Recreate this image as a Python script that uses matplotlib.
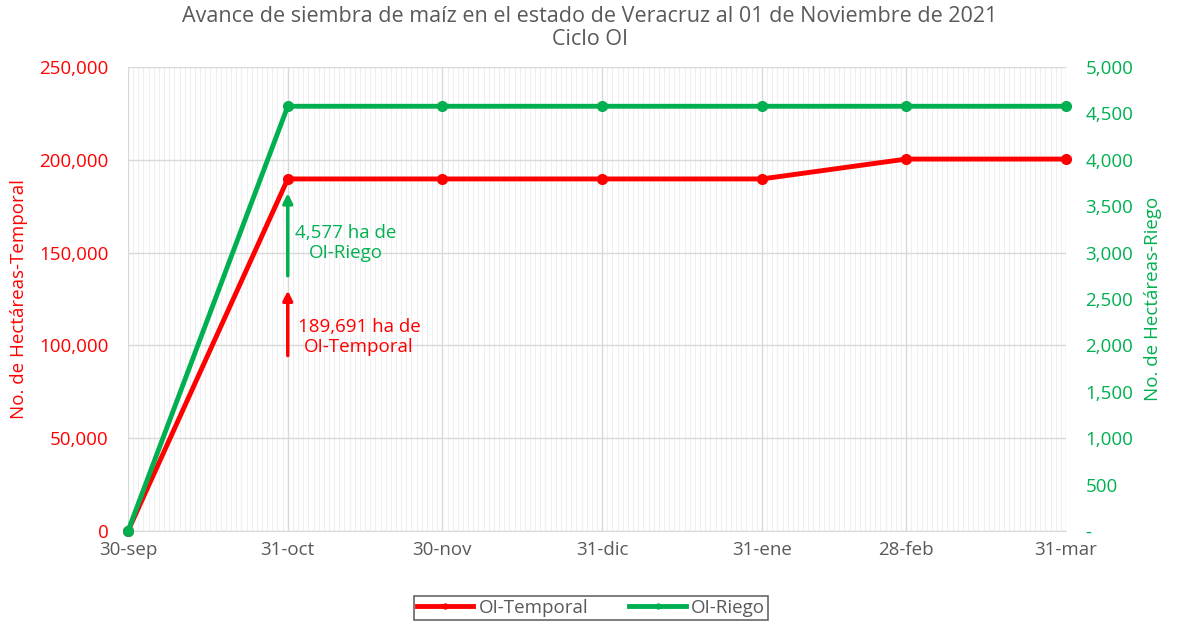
import matplotlib.pyplot as plt
import matplotlib.dates as mdates
import numpy as np
import datetime as dt

plt.rcParams['font.family'] = ['Open Sans', 'DejaVu Sans']

# datos
fechas = ['2021-09-30', '2021-10-31', '2021-11-30', '2021-12-31',
          '2022-01-31', '2022-02-28', '2022-03-31']
etiquetas = ['30-sep', '31-oct', '30-nov', '31-dic', '31-ene', '28-feb', '31-mar']
temporal = [0, 189691, 189691, 189691, 189691, 200400, 200400]
riego = [0, 4577, 4577, 4577, 4577, 4577, 4577]

x = [dt.datetime.strptime(f, '%Y-%m-%d') for f in fechas]

ROJO = '#ff0000'
VERDE = '#00b050'
GRIS = '#595959'
FS = 13.5

fig = plt.figure(figsize=(11.8, 6.25), dpi=100)
ax = fig.add_axes([128/1180, 1 - 531/625, (1066-128)/1180, (531-67)/625])
ax2 = ax.twinx()

ax.plot(x, temporal, color=ROJO, lw=3.5, marker='o', ms=7, zorder=3, clip_on=False, label='OI-Temporal')
ax2.plot(x, riego, color=VERDE, lw=3.5, marker='o', ms=7, zorder=3, clip_on=False, label='OI-Riego')

ax.set_xlim(x[0], x[-1])
ax.set_ylim(0, 250000)
ax2.set_ylim(0, 5000)

ax.set_xticks(x)
ax.set_xticklabels(etiquetas, color=GRIS, fontsize=FS)
ax.xaxis.set_minor_locator(mdates.DayLocator())
ax.set_yticks(np.arange(0, 250001, 50000))
ax.set_yticklabels([f'{v:,.0f}' for v in np.arange(0, 250001, 50000)], color=ROJO, fontsize=FS)
ax2.set_yticks(np.arange(0, 5001, 500))
ax2.set_yticklabels(['-'] + [f'{v:,.0f}' for v in np.arange(500, 5001, 500)], color=VERDE, fontsize=FS)

ax.grid(True, which='major', color='#d9d9d9', lw=1)
ax.grid(True, which='minor', axis='x', color='#efefef', lw=0.8)
ax.set_axisbelow(True)
ax2.set_zorder(ax.get_zorder() + 1)
ax2.patch.set_visible(False)

for a in (ax, ax2):
    for s in a.spines.values():
        s.set_visible(False)
    a.tick_params(length=0, which='both')
ax.spines['bottom'].set_visible(True)
ax.spines['bottom'].set_color('#d9d9d9')
ax.tick_params(axis='x', pad=7)
ax.tick_params(axis='y', pad=14)
ax2.tick_params(axis='y', pad=14)

ax.set_ylabel('No. de Hectáreas-Temporal', color=ROJO, fontsize=FS, labelpad=8)
ax2.set_ylabel('No. de Hectáreas-Riego', color=VERDE, fontsize=FS, labelpad=8)

fig.suptitle('Avance de siembra de maíz en el estado de Veracruz al 01 de Noviembre de 2021\nCiclo OI',
             color=GRIS, fontsize=15.5, y=0.99, linespacing=1.1)

# anotaciones
ax2.annotate('', xy=(x[1], 3670), xytext=(x[1], 2720),
             arrowprops=dict(arrowstyle='-|>', color=VERDE, lw=2.5, mutation_scale=14))
ax2.text(mdates.date2num(x[1]) + 11.2, 3100, '4,577 ha de\nOI-Riego', color=VERDE,
         fontsize=FS, ha='center', va='center', linespacing=1.15)
ax.annotate('', xy=(x[1], 131000), xytext=(x[1], 93000),
             arrowprops=dict(arrowstyle='-|>', color=ROJO, lw=2.5, mutation_scale=14))
ax.text(mdates.date2num(x[1]) + 13.8, 104500, '189,691 ha de\nOI-Temporal', color=ROJO,
        fontsize=FS, ha='center', va='center', linespacing=1.15)

h1, l1 = ax.get_legend_handles_labels()
h2, l2 = ax2.get_legend_handles_labels()
leg = fig.legend(h1 + h2, l1 + l2, loc='center', bbox_to_anchor=(591/1180, 1 - 608/625),
                 ncol=2, frameon=True, fancybox=False, edgecolor='#404040',
                 fontsize=FS, handlelength=3, columnspacing=2.2, markerscale=0.5,
                 labelcolor=GRIS, borderpad=0.15, handletextpad=0.3)
leg.get_frame().set_linewidth(1.2)

fig.savefig('out.png', dpi=100)
